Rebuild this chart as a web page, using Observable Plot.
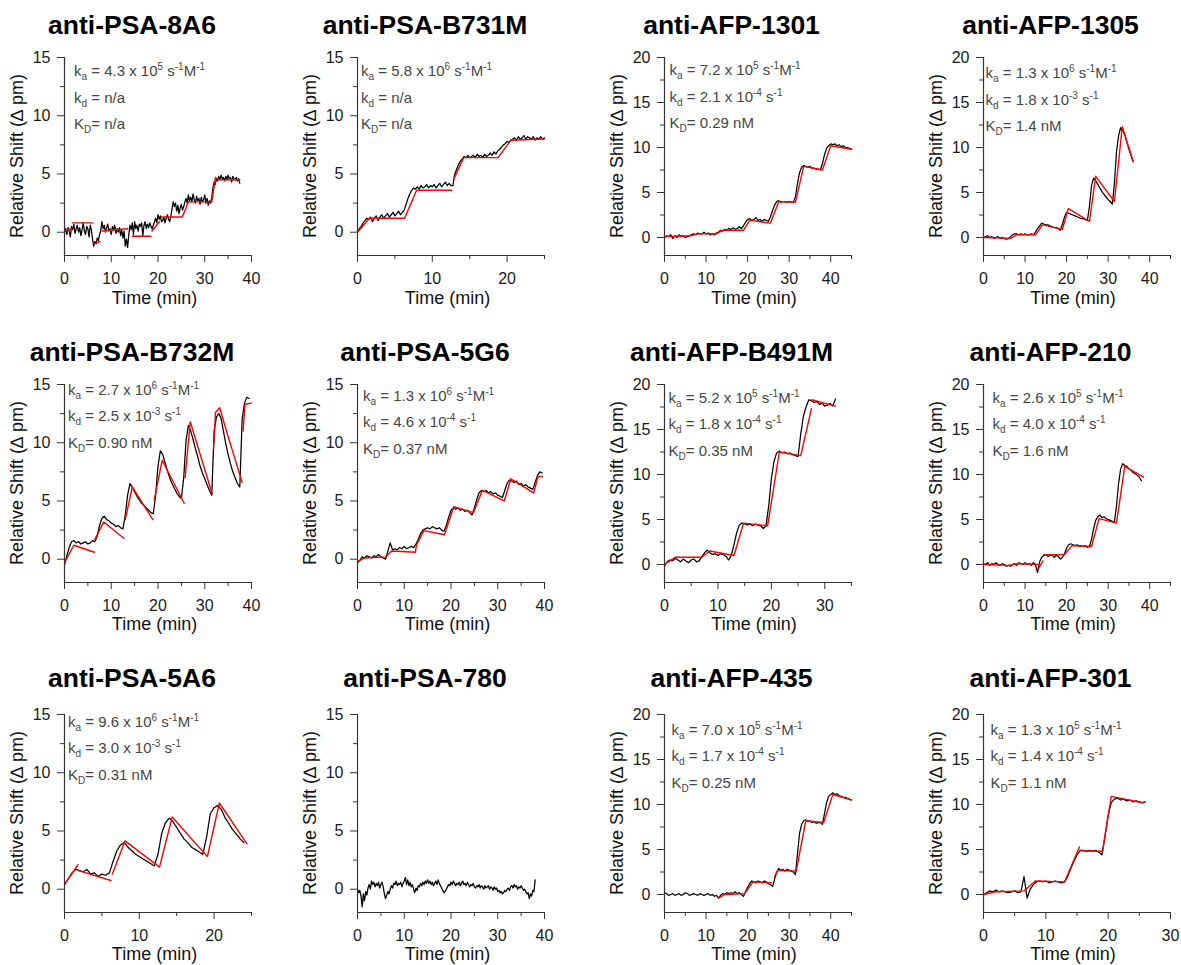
<!DOCTYPE html>
<html><head><meta charset="utf-8">
<script src="https://cdn.jsdelivr.net/npm/d3@7"></script>
<script src="https://cdn.jsdelivr.net/npm/@observablehq/plot@0.6"></script>
<style>
body{margin:0;background:#fff;overflow:hidden}
#wrap{position:relative;width:1181px;height:965px;font-family:"Liberation Sans",Arial,sans-serif;background:#fff}
.panel{position:absolute}
.title{position:absolute;font-weight:bold;font-size:26.5px;color:#000;white-space:nowrap;transform:translateX(-50%);line-height:1}
.xlab{position:absolute;font-size:18px;white-space:nowrap;transform:translateX(-50%);line-height:1;color:#111}
.ylab{position:absolute;font-size:18px;white-space:nowrap;transform:translate(-50%,-50%) rotate(-90deg);line-height:1;color:#111}
.ann{position:absolute;font-size:15px;color:#454545;white-space:nowrap;line-height:1}
.ann sub{font-size:10px;line-height:0;vertical-align:-4px}
.ann sup{font-size:10px;line-height:0;vertical-align:6px}
</style></head>
<body><div id="wrap"></div>
<script>
// ---------- titles ----------
const titles = ["anti-PSA-8A6","anti-PSA-B731M","anti-AFP-1301","anti-AFP-1305",
  "anti-PSA-B732M","anti-PSA-5G6","anti-AFP-B491M","anti-AFP-210",
  "anti-PSA-5A6","anti-PSA-780","anti-AFP-435","anti-AFP-301"];

// ---------- annotation values ----------
const kaMantissa = ["4.3","5.8","7.2","1.3","2.7","1.3","5.2","2.6","9.6",null,"7.0","1.3"];
const kaExponent = ["5","6","5","6","6","6","5","5","6",null,"5","5"];
const kdMantissa = [null,null,"2.1","1.8","2.5","4.6","1.8","4.0","3.0",null,"1.7","1.4"];
const kdExponent = [null,null,"-4","-3","-3","-4","-4","-4","-3",null,"-4","-4"];
const KDvalue = ["n/a","n/a","0.29 nM","1.4 nM","0.90 nM","0.37 nM","0.35 nM","1.6 nM","0.31 nM",null,"0.25 nM","1.1 nM"];

// ---------- axes ----------
const xMax = [40,25,45,45, 40,40,35,45, 25,40,45,30];
const yMax = [15,15,20,20, 15,15,20,20, 15,15,20,20];
const yTicks15 = [0,5,10,15];
const yTicks20 = [0,5,10,15,20];
const yMinor15 = [2.5,7.5,12.5];
const yMinor20 = [2.5,7.5,12.5,17.5];
const xTicks = {25:[0,10,20],30:[0,10,20,30],35:[0,10,20,30],40:[0,10,20,30,40],45:[0,10,20,30,40]};
const xMinor = {25:[5,15,25],30:[5,15,25],35:[5,15,25,35],40:[5,15,25,35],45:[5,15,25,35,45]};

// ---------- measured traces (Relative Shift, pm), sampled every traceStep[i] min ----------
const traceStep = [0.25,0.25,0.5,0.5, 0.5,0.5,0.5,0.5, 0.5,0.25,0.5,0.5];

const trace_PSA_8A6 = [0.0,0.3,-0.2,0.4,0.1,-0.4,0.5,0.2,0.7,-0.1,0.3,0.6,0.0,0.4,-0.3,0.2,0.8,0.1,-0.2,0.5,0.3,-0.4,0.6,0.2,
 -0.6,-1.2,-0.8,-1.0,-0.5,-0.7,-0.2,0.1,
 0.9,0.3,0.6,0.0,0.4,0.7,0.1,0.3,-0.2,0.5,0.2,0.6,-0.1,0.3,0.0,0.4,-0.3,0.2,-0.5,0.1,
 -1.2,-0.6,-1.3,-0.2,
 0.6,0.2,0.8,-0.2,0.9,0.3,0.6,0.1,0.7,0.5,0.8,-0.3,0.6,0.9,0.3,0.7,0.4,0.8,0.5,0.3,
 0.6,0.9,1.2,0.8,1.5,1.1,1.4,0.9,
 1.0,1.3,0.8,1.2,1.5,1.1,0.9,1.4,
 2.0,2.6,2.2,2.5,
 1.8,2.3,1.6,2.1,2.4,1.9,2.2,2.6,
 2.9,2.5,3.2,2.7,3.0,2.6,3.3,2.8,2.5,3.1,2.7,2.9,2.4,3.0,2.6,2.8,3.2,2.5,2.9,2.3,2.7,2.5,
 3.0,3.8,4.3,4.1,4.6,4.4,
 4.8,4.5,4.9,4.6,4.7,4.4,4.8,4.5,4.9,4.6,4.7,4.3,4.8,4.6,4.5,4.7,4.4,4.6,4.2];
const trace_PSA_B731M = [0.0,0.3,0.5,0.8,1.0,1.2,
 1.1,1.3,0.9,1.2,1.4,1.0,1.3,1.5,1.2,1.4,1.6,1.3,1.5,1.7,1.4,1.6,1.8,1.5,1.7,
 1.9,2.4,2.9,3.3,3.6,3.8,3.7,
 3.9,3.7,4.0,3.8,3.9,4.1,3.8,4.0,3.9,4.1,3.8,4.0,4.2,3.9,4.1,4.3,4.0,4.2,4.0,
 4.0,5.0,5.4,5.8,6.1,6.3,6.5,
 6.4,6.6,6.4,6.5,6.6,6.4,6.7,6.5,6.6,6.4,6.7,6.5,6.6,6.8,6.6,6.9,6.7,7.0,
 7.1,7.3,7.5,7.6,7.8,7.7,7.9,8.0,
 8.1,7.9,8.2,8.0,8.1,8.3,8.0,8.2,8.1,8.0,8.2,7.9,8.1,8.0,8.2,8.0,8.1];
const trace_AFP_1301 = [0.0,0.2,0.1,0.3,-0.1,0.2,0.0,0.3,0.1,0.2,0.0,0.1,
 0.2,0.3,0.4,0.3,0.5,0.4,0.4,0.6,0.4,0.5,0.3,0.4,0.3,0.5,
 0.6,0.8,0.7,0.9,0.8,1.0,0.9,1.1,0.9,1.0,1.2,1.0,
 1.3,1.7,2.0,
 2.1,1.9,2.0,2.2,1.9,2.0,1.8,2.0,1.9,1.8,
 2.3,3.0,3.6,4.0,
 4.1,3.9,4.0,4.0,3.9,4.0,3.9,3.9,
 4.5,6.0,7.2,7.8,
 8.0,7.9,7.8,7.9,7.7,7.7,7.6,7.6,7.5,
 8.2,9.2,9.9,10.2,
 10.4,10.3,10.4,10.2,10.3,10.1,10.2,10.0,10.0,9.9,9.8];
const trace_AFP_1305 = [0.0,0.1,0.2,0.0,0.1,-0.1,0.0,0.1,-0.1,0.0,-0.1,-0.2,-0.1,
 0.1,0.3,0.4,
 0.4,0.3,0.4,0.3,0.4,0.3,0.3,0.4,0.3,
 0.6,1.0,1.3,1.6,
 1.5,1.4,1.4,1.3,1.2,1.1,1.1,1.0,0.8,
 1.5,2.3,2.8,
 2.7,2.6,2.5,2.4,2.3,2.2,2.1,2.1,2.0,1.9,
 3.5,5.8,6.6,
 6.3,5.9,5.5,5.1,4.8,4.5,4.2,4.0,3.7,
 6.0,9.5,11.3,12.2,
 11.9,11.4,10.6,9.8,9.1,8.4];
const trace_PSA_B732M = [-0.5,0.3,1.0,1.5,
 1.6,1.4,1.5,1.3,1.4,1.5,1.3,1.4,1.6,1.5,
 2.0,2.9,3.5,
 3.7,3.4,3.3,3.1,3.0,2.8,2.9,2.7,2.6,
 3.8,5.5,6.5,
 6.2,5.8,5.4,5.1,4.8,4.6,4.4,4.2,4.0,3.9,
 5.5,8.0,9.3,
 9.0,8.3,7.6,7.0,6.5,6.1,5.7,5.4,5.2,
 7.0,10.2,11.5,
 11.0,10.3,9.5,8.8,8.0,7.4,6.9,6.4,5.9,5.5,
 11.0,12.2,12.5,
 12.1,11.0,9.9,9.0,8.2,7.5,7.0,6.5,6.2,
 12.0,13.4,13.9,13.8];
const trace_PSA_5G6 = [-0.3,-0.1,
 0.2,0.1,0.3,0.2,0.1,0.3,0.2,0.4,0.2,0.1,0.0,
 0.7,1.4,
 0.8,0.9,0.8,1.0,0.9,1.1,0.9,1.0,1.1,1.0,
 1.3,1.7,2.2,2.5,
 2.6,2.7,2.6,2.8,2.7,2.6,2.7,2.5,2.4,
 2.9,3.6,4.2,4.4,
 4.3,4.4,4.2,4.3,4.1,4.2,4.0,3.8,
 4.4,5.1,5.7,5.9,
 5.8,5.9,5.7,5.8,5.6,5.7,5.5,5.4,5.3,
 5.9,6.5,6.8,
 6.7,6.6,6.7,6.4,6.5,6.3,6.4,6.2,6.1,6.0,
 6.6,7.2,7.5,7.4];
const trace_AFP_B491M = [-0.2,0.3,0.5,0.4,0.7,0.5,0.3,0.6,0.4,0.2,0.5,0.6,0.3,0.4,
 0.9,1.3,1.6,
 1.3,1.1,1.2,1.0,1.2,1.1,0.9,0.5,1.0,
 2.2,3.5,4.4,4.6,
 4.5,4.4,4.5,4.3,4.5,4.4,4.3,4.0,4.3,
 6.5,9.5,11.5,12.4,
 12.6,12.4,12.5,12.3,12.4,12.2,12.1,12.0,
 14.5,16.5,17.5,18.3,
 18.2,18.0,18.1,17.8,17.9,17.6,17.7,17.9,17.6,18.4];
const trace_AFP_210 = [0.1,0.0,0.2,-0.1,0.1,0.0,0.2,0.0,-0.1,0.1,0.0,-0.2,-0.1,-0.2,0.0,0.1,-0.1,0.2,0.1,0.0,0.2,0.0,0.1,-0.1,0.2,0.0,
 -0.9,0.3,0.8,
 1.0,1.1,0.9,1.0,1.1,0.8,1.0,0.9,0.6,0.8,
 1.2,1.8,2.2,2.3,
 2.2,2.1,2.2,2.0,2.1,2.0,2.1,1.9,2.0,
 2.8,4.0,4.9,5.3,
 5.5,5.2,5.3,5.1,5.0,4.9,4.8,4.7,
 6.5,9.0,10.6,11.2,
 11.0,10.9,10.6,10.5,10.2,10.1,9.9,9.7,9.3];
const trace_PSA_5A6 = [0.4,0.9,1.4,1.7,
 1.6,1.5,1.7,1.3,1.4,1.1,1.3,1.2,1.4,
 2.4,3.3,3.8,
 4.0,3.6,3.3,3.0,2.8,2.6,2.4,2.2,2.0,
 3.0,4.8,5.7,6.1,
 5.8,5.3,4.8,4.3,4.0,3.6,3.4,3.2,3.0,
 4.5,6.5,7.0,
 7.2,6.8,6.1,5.6,5.1,4.7,4.3,4.0];
const trace_PSA_780 = [0.0,-0.3,-0.1,-0.6, -1.5,-0.4,-1.0,-0.2, -0.5,0.1,0.4,0.0, 0.7,0.4,0.6,0.2,
 0.5,0.3,0.6,0.1, 0.4,0.6,0.2,-0.4, -0.8,-0.5,-0.2,-0.4, 0.0,0.3,0.1,0.5,
 0.4,0.7,0.3,0.5, 0.4,0.6,0.2,0.5, 0.7,1.0,0.4,0.8, 0.3,0.6,0.2,0.4,
 0.0,-0.3,0.1,-0.1, 0.3,0.2,0.5,0.3, 0.6,0.4,0.7,0.5, 0.8,0.5,0.7,0.4,
 0.6,0.3,0.5,0.7, 0.4,0.8,0.5,0.3, 0.1,-0.1,-0.3,-0.2, 0.0,0.2,0.4,0.3,
 0.6,0.4,0.7,0.5, 0.3,0.5,0.4,0.6, 0.3,0.5,0.7,0.4, 0.5,0.3,0.6,0.4,
 0.2,0.4,0.3,0.5, 0.2,0.1,0.3,0.2, 0.4,0.1,0.3,0.2, 0.0,0.3,0.1,0.2,
 0.3,0.0,0.2,0.1, -0.1,0.2,0.0,0.1, -0.2,-0.1,-0.3,-0.2, -0.4,-0.3,-0.1,-0.2,
 0.0,0.1,-0.1,0.2, 0.3,0.1,0.4,0.2, 0.3,0.0,0.2,0.1, 0.3,0.1,-0.1,0.0,
 -0.2,-0.4,-0.3,-0.8, -0.4,-0.6,-0.1,-0.2, 0.8];
const trace_AFP_435 = [0.2,0.1,-0.1,0.0,0.1,-0.1,0.0,0.1,-0.1,0.0,0.2,0.1,-0.1,0.0,0.1,0.0,-0.1,0.1,0.0,-0.1,0.0,0.1,-0.1,0.0,-0.2,-0.1,
 -0.4,-0.1,0.1,0.0,0.2,0.1,0.2,0.1,0.3,0.1,0.2,0.0,-0.2,
 0.3,0.8,1.2,1.5,
 1.4,1.3,1.5,1.4,1.3,1.5,1.4,1.2,1.1,0.9,
 1.7,2.5,2.9,
 2.7,2.8,2.6,2.8,2.7,2.6,2.5,2.2,
 4.5,6.8,7.8,8.2,
 8.3,8.1,8.2,8.0,8.1,7.9,8.0,8.0,7.8,
 9.0,10.2,10.9,11.1,
 11.3,11.1,11.2,11.0,10.9,10.8,10.8,10.7,10.6,10.5];
const trace_AFP_301 = [0.0,0.2,0.4,0.3,0.5,0.3,0.4,0.3,0.2,0.3,0.4,0.2,0.3,
 2.0,-0.4,
 0.6,1.1,1.4,
 1.5,1.4,1.5,1.3,1.4,1.5,1.4,1.3,1.4,
 2.0,2.9,3.7,4.4,4.9,
 4.9,4.8,4.9,4.8,4.9,4.7,4.4,
 6.5,8.8,10.2,10.6,
 10.7,10.5,10.6,10.4,10.5,10.3,10.4,10.3,10.2,10.3];

// ---------- kinetic fits: [time (min), shift (pm)], NaN = break ----------
const fit_PSA_8A6 = [[0,0.1],[1.6,0.3],[1.6,NaN],[1.7,0.8],[6.1,0.8],[6.1,NaN],[6.3,-1.0],[7.6,-0.8],[7.6,NaN],
 [8,0.1],[13.5,0.3],[13.5,NaN],[14.5,-0.35],[18.5,-0.35],[18.5,NaN],[18.7,0.1],[20.3,0.9],[20.3,NaN],
 [20.8,1.3],[25.2,1.3],[26.5,2.6],[31.5,2.6],[32.3,4.7],[33,4.5],[37.5,4.5]];
const fit_PSA_B731M = [[0,0],[1.6,1.2],[6.3,1.2],[7.9,3.6],[12.6,3.6],[12.6,NaN],[12.9,4.6],[14.2,6.4],[18.8,6.4],[20.5,7.9],[25,8.0]];
const fit_AFP_1301 = [[0,0.1],[6.5,0.2],[8,0.4],[12.5,0.4],[14,0.8],[19,0.8],[20.5,1.9],[25.5,1.6],[27.5,4.0],[31.5,3.9],[33.5,7.9],[38,7.5],[40,10.2],[45,9.8]];
const fit_AFP_1305 = [[0,0],[6.5,-0.1],[8,0.3],[12.5,0.3],[14.2,1.4],[19,0.9],[20.4,3.2],[25.5,1.8],[27,6.8],[31.5,4.0],[33.4,12.3],[36,8.5]];
const fit_PSA_B732M = [[0,-0.3],[2,1.2],[6.4,0.6],[6.4,NaN],[6.5,1.7],[8.4,3.2],[12.7,1.8],[12.7,NaN],
 [13,3.4],[14.5,6.2],[18.9,3.4],[18.9,NaN],[19.2,5.1],[20.9,8.5],[25.6,4.8],[25.6,NaN],
 [25.8,7.0],[26.9,11.8],[31.6,5.6],[31.6,NaN],[31.9,9.5],[32.3,12.6],[33.2,13.0],[34.5,11.2],[38,6.6],[38,NaN],
 [38.2,11.0],[38.6,13.3],[40,13.4]];
const fit_PSA_5G6 = [[0,-0.2],[1.5,0.1],[6,0.2],[7.3,0.7],[12.4,0.6],[12.6,1.2],[14.2,2.45],[18.6,2.1],[20.6,4.5],[24.8,4.0],[26.7,5.9],[31.4,5.0],[32.8,6.9],[37.7,5.7],[38.6,7.1],[39.6,7.1]];
const fit_AFP_B491M = [[0,0],[2,0.8],[7,0.8],[8.5,1.5],[13,1.0],[14.8,4.6],[19.3,4.3],[21.5,12.5],[25.5,12.1],[27.5,17.3],[27.5,NaN],[27.6,18.3],[32,17.6]];
const fit_AFP_210 = [[0,0],[6,-0.1],[8.5,0.1],[13,0.0],[13,NaN],[13.2,-0.5],[14.3,0.4],[14.3,NaN],[14.5,1.1],[19.5,1.1],[21.3,2.1],[26,2.0],[27.8,5.1],[32,4.6],[34,10.9],[38.5,9.7]];
const fit_PSA_5A6 = [[0,0.4],[1.8,2.1],[1.8,NaN],[1.9,1.6],[6.2,0.75],[6.2,NaN],[6.4,1.3],[8.1,4.15],[12.7,1.9],[14.4,6.2],[19.1,2.8],[20.7,7.4],[24.4,3.9]];
const fit_PSA_780 = [];
const fit_AFP_435 = [[13,-0.4],[14.5,0.0],[19.3,0.1],[21.3,1.4],[25.7,1.3],[25.7,NaN],[26.5,2.0],[27.3,2.7],[31.7,2.6],[34,8.2],[38.3,8.0],[40.5,11.1],[45,10.5]];
const fit_AFP_301 = [[0,0],[2,0.3],[6.5,0.4],[8.3,1.5],[13,1.4],[15.4,5.3],[15.4,NaN],[15.5,4.85],[19.1,4.8],[20.5,10.9],[25.5,10.2]];

const traces = [trace_PSA_8A6,trace_PSA_B731M,trace_AFP_1301,trace_AFP_1305,trace_PSA_B732M,trace_PSA_5G6,
  trace_AFP_B491M,trace_AFP_210,trace_PSA_5A6,trace_PSA_780,trace_AFP_435,trace_AFP_301];
const fits = [fit_PSA_8A6,fit_PSA_B731M,fit_AFP_1301,fit_AFP_1305,fit_PSA_B732M,fit_PSA_5G6,
  fit_AFP_B491M,fit_AFP_210,fit_PSA_5A6,fit_PSA_780,fit_AFP_435,fit_AFP_301];

// ---------- layout ----------
const colAxisX = [64, 357, 663.5, 982.5];
const rowTop = [57, 383.5, 713.5];
const titleBase = [35, 362, 688];
const PW = 187, PH = 198;
const annDx = [10,4,6,3, 4,6,5,10, 4,0,8,8];
const annDy = [19,19,18,21, 11,17,19,19, 13,0,21,21];
const FONT = '"Liberation Sans", Arial, sans-serif';

const wrap = document.getElementById("wrap");
function addDiv(cls, html, left, top) {
  const d = document.createElement("div");
  d.className = cls; d.innerHTML = html;
  d.style.left = left + "px"; d.style.top = top + "px";
  wrap.appendChild(d); return d;
}

titles.forEach((title, i) => {
  const col = i % 4, row = Math.floor(i / 4);
  const ax = colAxisX[col], top = rowTop[row];
  const ML = 60, MT = 8, MR = 10, MB = 30;
  const xm = xMax[i], ym = yMax[i];
  const trace = traces[i].map((v, j) => ({t: j * traceStep[i], v}));
  const fit = fits[i].map(([t, v]) => ({t, v}));
  const chart = Plot.plot({
    width: ML + PW + MR, height: MT + PH + MB,
    marginLeft: ML, marginTop: MT, marginRight: MR, marginBottom: MB,
    x: {domain: [0, xm]},
    y: {domain: [-2, ym]},
    style: {fontFamily: FONT, fontSize: "16px", color: "#1a1a1a", background: "transparent", overflow: "visible"},
    marks: [
      Plot.line(trace, {x: "t", y: "v", stroke: "#000", strokeWidth: 1.25}),
      Plot.line(fit, {x: "t", y: "v", stroke: "#ff0000", strokeWidth: 1.4}),
      Plot.ruleX([0], {y1: -2, y2: ym, stroke: "#333", strokeWidth: 1.2}),
      Plot.ruleY([-2], {x1: 0, x2: xm, stroke: "#333", strokeWidth: 1.2}),
      Plot.axisY(ym === 15 ? yTicks15 : yTicks20, {tickSize: 7, tickPadding: 7, label: null, stroke: "#333", fill: "#1a1a1a"}),
      Plot.axisY(ym === 15 ? yMinor15 : yMinor20, {tickSize: 4, label: null, stroke: "#333", fill: "none"}),
      Plot.axisX(xTicks[xm], {tickSize: 7, tickPadding: 10, label: null, stroke: "#333", fill: "#1a1a1a"}),
      Plot.axisX(xMinor[xm], {tickSize: 4, label: null, stroke: "#333", fill: "none"})
    ]
  });
  chart.classList.add("panel");
  chart.style.position = "absolute";
  chart.style.left = (ax - ML) + "px";
  chart.style.top = (top - MT) + "px";
  wrap.appendChild(chart);

  addDiv("title", title, ax + 68, titleBase[row] - 0.85 * 26.5);
  addDiv("xlab", "Time (min)", ax + PW / 2 - 3, top + PH + 49 - 15.3);
  addDiv("ylab", "Relative Shift (\u2206 pm)", ax - 47, top + PH / 2);

  if (kaMantissa[i] !== null) {
    const lines = [
      `k<sub>a</sub> = ${kaMantissa[i]} x 10<sup>${kaExponent[i]}</sup> s<sup>-1</sup>M<sup>-1</sup>`,
      kdMantissa[i] === null ? `k<sub>d</sub> = n/a` : `k<sub>d</sub> = ${kdMantissa[i]} x 10<sup>${kdExponent[i]}</sup> s<sup>-1</sup>`,
      `K<sub>D</sub>= ${KDvalue[i]}`
    ];
    lines.forEach((html, k) => addDiv("ann", html, ax + annDx[i], top + annDy[i] + k * 26.5 - 0.85 * 15));
  }
});
</script>
</body></html>
